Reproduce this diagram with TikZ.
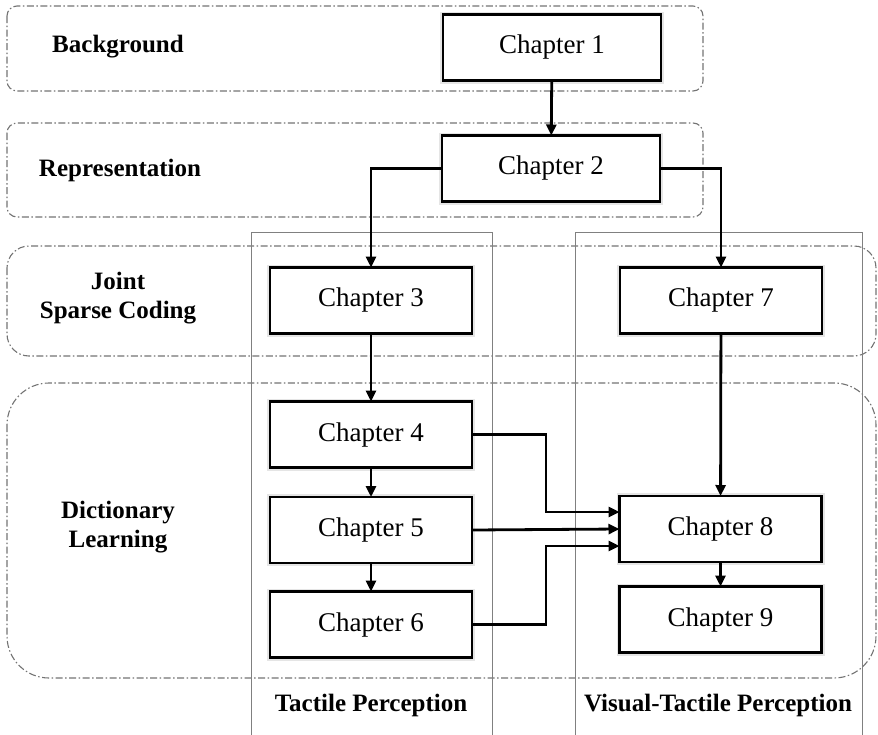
\documentclass[tikz,border=0pt]{standalone}
\usepackage{fontspec}
\setmainfont{Liberation Serif}
\usetikzlibrary{arrows.meta}

\begin{document}
\begin{tikzpicture}[x=1pt, y=-1pt,
    band/.style={draw=black!55, line width=1.1pt, dash pattern=on 7pt off 2.5pt on 1.5pt off 2.5pt},
    column/.style={draw=black!50, line width=1pt},
    chapbox/.style={draw=black, line width=2.2pt, fill=white, minimum width=202pt, minimum height=66pt,
        inner sep=0pt, outer sep=0pt, font=\fontsize{27}{31}\selectfont,
        preaction={draw=gray!20, line width=6pt}},
    widebox/.style={chapbox, minimum width=218pt},
    lbl/.style={font=\fontsize{25}{29}\selectfont\bfseries, align=center},
    arr/.style={line width=2.8pt, -{Triangle[length=11pt,width=10pt]}}]
        \def\bx{7}
        \def\shift{17}
        \useasboundingbox (0,0) rectangle (878,734);
        \draw[band, rounded corners=10pt] (\bx,6) rectangle (703,91);
        \draw[band, rounded corners=10pt] (\bx,123) rectangle (703,217);
        \draw[band, rounded corners=22pt] (\bx,246) rectangle (876,356);
        \draw[band, rounded corners=42pt] (\bx,383) rectangle (876,678);
        \draw[column] (251,740) -- (251,232) -- (492,232) -- (492,740);
        \draw[column] (575,740) -- (575,232) -- (862,232) -- (862,740);
        \node[lbl] (bg) at (118,47) {Background};
        \node[lbl] (rep) at (120,170) {Representation};
        \node[lbl] (jsc) at (118,298) {Joint\\Sparse Coding};
        \node[lbl] (dl) at (118,527) {Dictionary\\Learning};
        \node[lbl] (tp) at (371,705) {Tactile Perception};
        \node[lbl] (vtp) at (718,705) {Visual-Tactile Perception};
        \node[widebox] (ch1) at (552,47.5) {Chapter 1};
        \node[widebox] (ch2) at (551,168.5) {Chapter 2};
        \node[chapbox] (ch3) at (371,300.5) {Chapter 3};
        \node[chapbox] (ch7) at (721,300.5) {Chapter 7};
        \node[chapbox] (ch4) at (371,434.5) {Chapter 4};
        \node[chapbox] (ch5) at (371,530) {Chapter 5};
        \node[chapbox] (ch6) at (371,624.5) {Chapter 6};
        \node[chapbox] (ch8) at (720.5,529) {Chapter 8};
        \node[chapbox] (ch9) at (720.5,619.5) {Chapter 9};
        \draw[arr] (ch1) -- (ch2);
        \draw[arr] (ch2.west) -| (ch3.north);
        \draw[arr] (ch2.east) -| (ch7.north);
        \draw[arr] (ch3) -- (ch4);
        \draw[arr] (ch4) -- (ch5);
        \draw[arr] (ch5) -- (ch6);
        \draw[arr] (ch7) -- (ch8);
        \draw[arr] (ch8) -- (ch9);
        \draw[arr] (ch4.east) -- ++(74,0) |- ([yshift=\shift pt]ch8.west);
        \draw[arr] (ch5.east) -- (ch8.west);
        \draw[arr] (ch6.east) -- ++(74,0) |- ([yshift=-\shift pt]ch8.west);
    \end{tikzpicture}
\end{document}
